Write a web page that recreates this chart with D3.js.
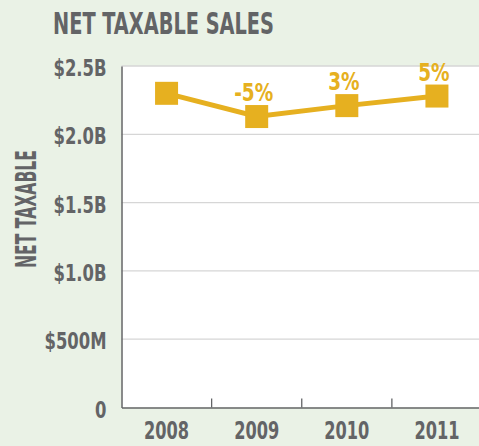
<!DOCTYPE html>
<html>
<head>
<meta charset="utf-8">
<script src="https://cdn.jsdelivr.net/npm/d3@7"></script>
<style>
  body { margin: 0; background: #eaf2e6; }
  svg { display: block; }
  .lbl { font-family: "Liberation Sans Narrow", "DejaVu Sans Condensed", "Roboto", sans-serif; font-weight: bold; }
</style>
</head>
<body>
<div id="chart"></div>
<script>
const years = ["2008", "2009", "2010", "2011"];
const sales = [2.30e9, 2.13e9, 2.21e9, 2.28e9];
const changes = ["", "-5%", "3%", "5%"];
const yTicks = [0, 0.5e9, 1.0e9, 1.5e9, 2.0e9, 2.5e9];
const yTickLabels = ["0", "$500M", "$1.0B", "$1.5B", "$2.0B", "$2.5B"];

const W = 479, H = 446;
const margin = {top: 66, right: -3, bottom: 38.5, left: 121.5};
const grey = "#636466", gold = "#e6b020";

const svg = d3.select("#chart").append("svg")
    .attr("width", W)
    .attr("height", H);

svg.append("rect")
    .attr("width", W).attr("height", H)
    .attr("fill", "#eaf2e6");

const x = d3.scaleBand()
    .domain(years)
    .range([margin.left, W - margin.right]);

const y = d3.scaleLinear()
    .domain([0, 2.5e9])
    .range([H - margin.bottom, margin.top]);

// plot background
svg.append("rect")
    .attr("x", margin.left).attr("y", y(2.5e9))
    .attr("width", W - margin.left).attr("height", y(0) - y(2.5e9))
    .attr("fill", "#fff");

// gridlines
svg.append("g")
    .selectAll("line")
    .data(yTicks.slice(1))
    .join("line")
    .attr("x1", margin.left).attr("x2", W)
    .attr("y1", d => y(d)).attr("y2", d => y(d))
    .attr("stroke", "#d6d6d6")
    .attr("stroke-width", 1.3);

// y axis
const yAxis = svg.append("g")
    .attr("transform", `translate(${margin.left},0)`)
    .call(d3.axisLeft(y)
        .tickValues(yTicks)
        .tickSize(0)
        .tickPadding(15)
        .tickFormat((d, i) => yTickLabels[i]));
yAxis.select(".domain").attr("stroke", grey).attr("stroke-width", 1.5);
yAxis.selectAll("text")
    .attr("class", "lbl ytick")
    .attr("fill", grey)
    .attr("font-size", 23)
    .attr("dy", "0.42em");

// x axis
const xAxis = svg.append("g")
    .attr("transform", `translate(0,${y(0)})`)
    .call(d3.axisBottom(x).tickSize(0).tickPadding(14));
xAxis.select(".domain").attr("stroke", grey).attr("stroke-width", 1.5);
xAxis.selectAll("text")
    .attr("class", "lbl xtick")
    .attr("fill", grey)
    .attr("font-size", 24);

// band separator ticks
svg.append("g")
    .selectAll("line")
    .data(years.slice(1))
    .join("line")
    .attr("x1", d => x(d)).attr("x2", d => x(d))
    .attr("y1", y(0)).attr("y2", y(0) - 9)
    .attr("stroke", grey)
    .attr("stroke-width", 1.3);

const pts = years.map((yr, i) => ({year: yr, value: sales[i], change: changes[i]}));
const cx = d => x(d.year) + x.bandwidth() / 2;

svg.append("path")
    .datum(pts)
    .attr("fill", "none")
    .attr("stroke", gold)
    .attr("stroke-width", 5)
    .attr("d", d3.line().x(cx).y(d => y(d.value)));

const s = 23;
svg.append("g")
    .selectAll("rect")
    .data(pts)
    .join("rect")
    .attr("x", d => cx(d) - s / 2)
    .attr("y", d => y(d.value) - s / 2)
    .attr("width", s).attr("height", s)
    .attr("fill", gold);

svg.append("g")
    .selectAll("text")
    .data(pts)
    .join("text")
    .attr("class", "lbl pct")
    .attr("x", d => cx(d) - 3)
    .attr("y", d => y(d.value) - s / 2 - 4)
    .attr("text-anchor", "middle")
    .attr("fill", gold)
    .attr("font-size", 25)
    .text(d => d.change);

svg.append("text")
    .attr("class", "lbl title")
    .attr("x", 53).attr("y", 34)
    .attr("fill", grey)
    .attr("font-size", 31)
    .text("NET TAXABLE SALES");

svg.append("text")
    .attr("class", "lbl ylab")
    .attr("transform", `translate(36,209) rotate(-90)`)
    .attr("text-anchor", "middle")
    .attr("fill", grey)
    .attr("font-size", 28)
    .text("NET TAXABLE");

// squeeze text horizontally to mimic a condensed gothic face:
// each group is scaled so one sample text reaches its width in the reference
function squeeze(sel, sampleText, width) {
    const sample = sel.filter(function() { return this.textContent === sampleText; }).node();
    const k = width / sample.getComputedTextLength();
    sel.each(function() {
        const len = this.getComputedTextLength();
        if (len > 0) {
            d3.select(this)
                .attr("textLength", len * k)
                .attr("lengthAdjust", "spacingAndGlyphs");
        }
    });
}
squeeze(svg.selectAll(".title"), "NET TAXABLE SALES", 221);
squeeze(svg.selectAll(".ylab"), "NET TAXABLE", 118);
squeeze(svg.selectAll(".ytick"), "$2.5B", 53);
squeeze(svg.selectAll(".xtick"), "2008", 45);
squeeze(svg.selectAll(".pct"), "-5%", 39);
</script>
</body>
</html>
